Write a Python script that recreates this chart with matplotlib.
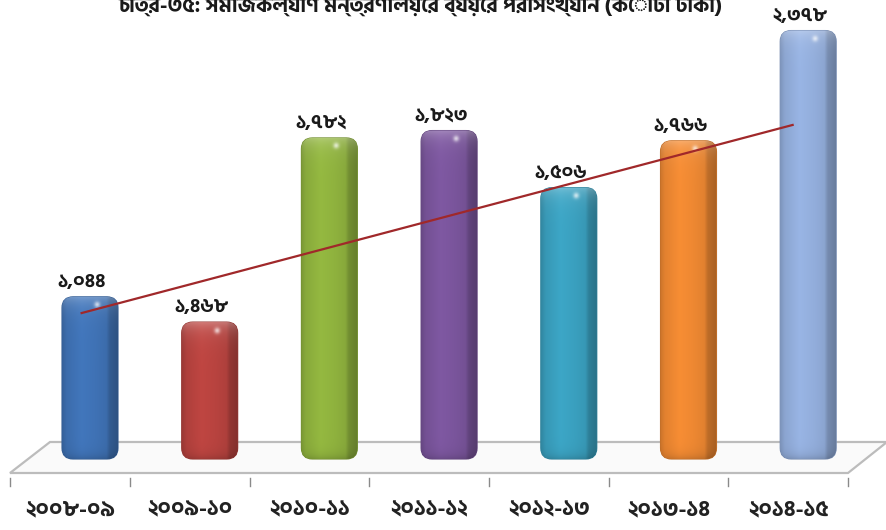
import numpy as np
import matplotlib
matplotlib.use('Agg')
import matplotlib.pyplot as plt
from matplotlib import font_manager
from matplotlib.patches import FancyBboxPatch, Polygon
from matplotlib.colors import to_rgb

title = 'চিত্র-৩৫: সমাজকল্যাণ মন্ত্রণালয়ের ব্যয়ের পরিসংখ্যান (কোটি টাকা)'
years = ['২০০৮-০৯', '২০০৯-১০', '২০১০-১১', '২০১১-১২', '২০১২-১৩', '২০১৩-১৪', '২০১৪-১৫']
value_labels = ['১,০৪৪', '১,৪৬৮', '১,৭৮২', '১,৮২৩', '১,৫০৬', '১,৭৬৬', '২,৩৭৮']
# bar heights as drawn in the picture (first two are shorter than their labels say)
bar_heights = [900, 760, 1782, 1823, 1506, 1766, 2378]
bar_colors = ['#3f72b5', '#b8433f', '#8fb23e', '#7a559c', '#3aa0bf', '#ee8832', '#93aedc']
trend_x = [-0.07, 5.87]
trend_y = [810, 1854]

# pixel layout helpers (figure is 887x530 px)
PX_CAT = 119.7      # pixels per category
UNIT_PX = 5.55      # value units per pixel
X0, Y0 = 90, 459    # pixel position of first bar centre / bar base


def px(x, y):
    return (x - X0) / PX_CAT, (Y0 - y) * UNIT_PX


installed = {f.name for f in font_manager.fontManager.ttflist}
bn_font = None
for name in ['Hind Siliguri', 'Noto Sans Bengali', 'Lohit Bengali']:
    if name in installed:
        bn_font = name
        break
plt.rcParams['font.family'] = [bn_font, 'DejaVu Sans'] if bn_font else ['DejaVu Sans']

fig = plt.figure(figsize=(8.87, 5.30), dpi=100)
ax = fig.add_axes([0, 0, 1, 1])
ax.axis('off')

# floor of the 3D plot
floor = Polygon([px(10, 473), px(848, 473), px(887, 442), px(50, 442)], closed=True,
                facecolor='#fafafa', edgecolor='#bcbcbc', lw=1.6, zorder=1)
ax.add_patch(floor)

# tick marks and category labels
for i in range(len(years) + 1):
    tx = i - 0.5 - 20 / PX_CAT
    ax.plot([tx, tx], [px(0, 478)[1], px(0, 486)[1]], color='#8a8a8a', lw=1, zorder=1)
for i, lab in enumerate(years):
    ax.text(i - 20 / PX_CAT, px(0, 510)[1], lab, ha='center', va='center',
            fontsize=16, fontweight='bold', color='#222222')

bar_w = 56 / PX_CAT
rx = 11 / PX_CAT
ry = 11 * UNIT_PX


def bar_image(color, h):
    rows = max(int(h / UNIT_PX), 2)
    cols = 60
    base = np.array(to_rgb(color))
    u = np.linspace(0, 1, cols)
    shade = np.interp(u, [0, 0.08, 0.35, 0.6, 0.8, 0.86, 1.0],
                      [0.85, 0.95, 1.04, 1.0, 0.95, 0.8, 0.72])
    img = np.clip(base[None, None, :] * shade[None, :, None], 0, 1)
    img = np.repeat(img, rows, axis=0)
    r = np.arange(rows)[:, None, None]
    cap = 0.28 * np.exp(-r / 9.0)
    img = img * (1 - cap) + cap
    rr, cc = np.mgrid[0:rows, 0:cols]
    spot = np.exp(-(((cc - 0.62 * cols) / 3.0) ** 2 + ((rr - 8) / 3.0) ** 2))
    img = img * (1 - 0.7 * spot[..., None]) + 0.7 * spot[..., None]
    bottom = 0.15 * np.exp(-(rows - 1 - r) / 5.0)
    img = img * (1 - bottom)
    return np.clip(img, 0, 1)


for i, (h, c) in enumerate(zip(bar_heights, bar_colors)):
    x0 = i - bar_w / 2
    patch = FancyBboxPatch((x0, 0), bar_w, h,
                           boxstyle='round,pad=0,rounding_size=%f' % rx,
                           mutation_aspect=ry / rx,
                           facecolor=c, edgecolor=tuple(np.array(to_rgb(c)) * 0.8),
                           lw=0.8, zorder=2)
    ax.add_patch(patch)
    im = ax.imshow(bar_image(c, h), extent=[x0, x0 + bar_w, 0, h], origin='upper',
                   aspect='auto', interpolation='bilinear', zorder=2.1)
    im.set_clip_path(patch)
    ax.annotate(value_labels[i], (i, h), xytext=(-8, 15), textcoords='offset pixels',
                ha='center', va='center', fontsize=14, fontweight='bold',
                color='#1a1a1a', zorder=4)

ax.plot(trend_x, trend_y, color='#a0282a', lw=1.6, zorder=3)

# title is partly cut off at the top edge in the reference
ax.text(px(420, 0)[0], px(0, 12)[1], title, ha='center', va='baseline',
        fontsize=15, fontweight='bold', color='#1a1a1a')

ax.set_xlim(-X0 / PX_CAT, (887 - X0) / PX_CAT)
ax.set_ylim(-(530 - Y0) * UNIT_PX, Y0 * UNIT_PX)

fig.savefig('out.png', dpi=100)
